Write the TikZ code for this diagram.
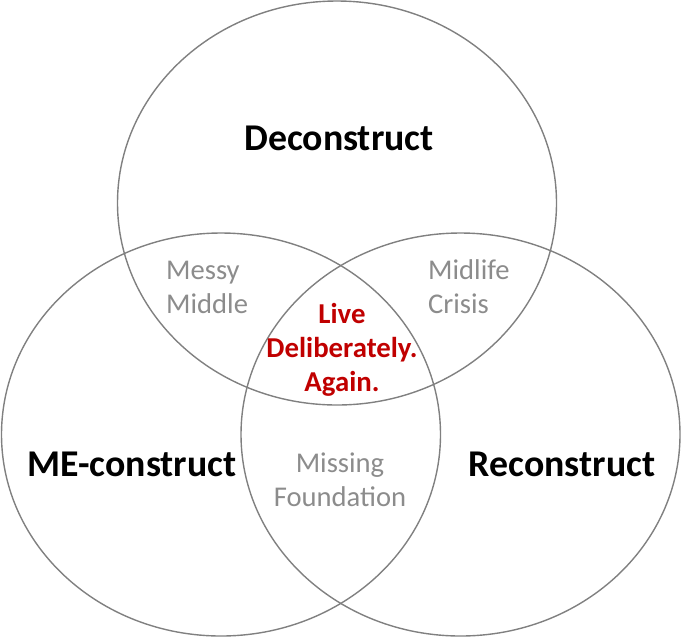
\documentclass[tikz,border=0pt]{standalone}
\usepackage{fontspec}
\setmainfont{Carlito}
\definecolor{ringgray}{HTML}{808080}
\definecolor{labelgray}{HTML}{8C8C8C}
\definecolor{livered}{HTML}{C00000}
\begin{document}
\begin{tikzpicture}[x=1pt,y=-1pt,
  ring/.style={draw=ringgray,line width=1.4pt},
  mainlabel/.style={font=\fontsize{37.8}{46}\selectfont\bfseries,text=black,inner sep=0pt,anchor=base},
  sublabel/.style={font=\fontsize{28.6}{34}\selectfont,text=labelgray,inner sep=0pt,anchor=base},
  corelabel/.style={font=\fontsize{28.8}{34}\selectfont\bfseries,text=livered,inner sep=0pt,anchor=base}]
\useasboundingbox (0,0) rectangle (682,638);
\draw[ring] (337,203) ellipse [x radius=219.5, y radius=202];
\draw[ring] (221,434.5) ellipse [x radius=219.5, y radius=201.5];
\draw[ring] (460.5,434.5) ellipse [x radius=219.5, y radius=201.5];
\node[mainlabel] (dec) at (339,150) {Deconstruct};
\node[mainlabel] (me) at (132,476) {ME-construct};
\node[mainlabel] (rec) at (562,476) {Reconstruct};
\node[sublabel,align=left,anchor=base west] (messy) at (166,313) {Messy\\Middle};
\node[sublabel,align=left,anchor=base west] (midlife) at (428,313) {Midlife\\Crisis};
\node[sublabel,align=center] (missing) at (340,506) {Missing\\Foundation};
\node[corelabel,align=center] (live) at (342,391) {Live\\Deliberately.\\Again.};
\end{tikzpicture}
\end{document}
